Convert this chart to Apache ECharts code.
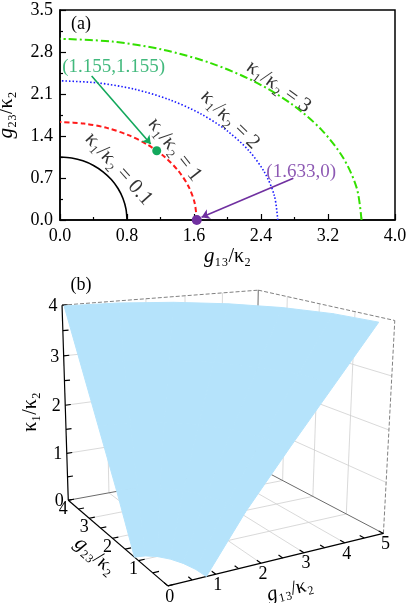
<!DOCTYPE html>
<html>
<head>
<meta charset="utf-8">
<script src="https://cdn.jsdelivr.net/npm/echarts@6/dist/echarts.min.js"></script>
<style>
html,body{margin:0;padding:0;background:#fff;}
#main{width:407px;height:603px;}
</style>
</head>
<body>
<div id="main"></div>
<script>
// ---- panel (a): contour curves (g13/k2, g23/k2)
var curveK01 = [[0.8,0],[0.788,0.182],[0.752,0.359],[0.693,0.525],[0.613,0.675],[0.514,0.804],[0.4,0.909],[0.274,0.987],[0.139,1.034],[0,1.05]];
var curveK1  = [[1.633,0],[1.608,0.284],[1.535,0.559],[1.414,0.817],[1.251,1.05],[1.05,1.251],[0.817,1.414],[0.559,1.535],[0.284,1.608],[0,1.633]];
var curveK2  = [[2.6,0],[2.56,0.403],[2.443,0.793],[2.252,1.16],[1.992,1.491],[1.671,1.777],[1.3,2.009],[0.889,2.18],[0.451,2.285],[0,2.32]];
var curveK3  = [[3.6,0],[3.545,0.524],[3.383,1.033],[3.118,1.51],[2.758,1.941],[2.314,2.313],[1.8,2.615],[1.231,2.838],[0.625,2.974],[0,3.02]];
var curveNames = ['κ₁/κ₂ = 0.1','κ₁/κ₂ = 1','κ₁/κ₂ = 2','κ₁/κ₂ = 3'];
var curveLabelAt = [[0.7,0.85],[1.37,1.17],[2.03,1.67],[2.61,2.22]];
var curveLabelRot = [-48,-52,-45,-36];
var pointGreen = [1.155,1.155];
var pointPurple = [1.633,0];
var arrowGreen = [[0.378,2.4],[1.083,1.267]];
var arrowPurple = [[2.786,0.695],[1.69,0.045]];
var noteGreen = '(1.155,1.155)', noteGreenAt = [0.64,2.55];
var notePurple = '(1.633,0)', notePurpleAt = [2.88,0.8];

// ---- panel (b): surface kappa1/kappa2 over (g13, g23)
var surfLevels = [0,1,2,3,4];
var surfG13 = [
  [0.8,0.773,0.693,0.566,0.4,0.207,0],
  [1.633,1.577,1.414,1.155,0.817,0.423,0],
  [2.6,2.511,2.252,1.838,1.3,0.673,0],
  [3.6,3.477,3.118,2.546,1.8,0.932,0],
  [4.6,4.443,3.984,3.253,2.3,1.191,0]
];
var surfG23 = [
  [0,0.298,0.575,0.813,0.996,1.111,1.15],
  [0,0.466,0.9,1.273,1.559,1.739,1.8],
  [0,0.647,1.25,1.768,2.165,2.415,2.5],
  [0,0.828,1.6,2.263,2.771,3.091,3.2],
  [0,1.009,1.95,2.758,3.377,3.767,3.9]
];
var g13Ticks3d = [0,1,2,3,4,5];
var g23Ticks3d = [0,1,2,3,4];
var kTicks3d = [0,1,2,3,4];

// camera anchors: where box points sit on the page
var camWorld = [[0,0,0],[1,0,0],[2,0,0],[3,0,0],[4,0,0],[5,0,0],[0,1,0],[0,2,0],[0,3,0],[0,4,0],[0,4,1],[0,4,2],[0,4,3],[0,4,4],[5,4,4],[5,0,4]];
var camScreen = [[168,586],[216,574],[261,563],[304,553],[344,543],[384,533],[139,561],[111,537],[89,519],[68,501],[68,453],[66,405],[63.3,356],[61.7,305],[258,290],[395,321]];

function fitCamera(world, screen){
  var N = 11, M = [], r = [], i, j;
  for (i = 0; i < N; i++){ M.push([0,0,0,0,0,0,0,0,0,0,0]); r.push(0); }
  function addRow(a, b){
    for (var i = 0; i < N; i++){ for (var j = 0; j < N; j++) M[i][j] += a[i]*a[j]; r[i] += a[i]*b; }
  }
  world.forEach(function(w, k){
    var X = w[0], Y = w[1], Z = w[2], x = screen[k][0], y = screen[k][1];
    addRow([X,Y,Z,1,0,0,0,0,-x*X,-x*Y,-x*Z], x);
    addRow([0,0,0,0,X,Y,Z,1,-y*X,-y*Y,-y*Z], y);
  });
  for (var c = 0; c < N; c++){
    var p = c;
    for (i = c+1; i < N; i++) if (Math.abs(M[i][c]) > Math.abs(M[p][c])) p = i;
    var t = M[c]; M[c] = M[p]; M[p] = t; t = r[c]; r[c] = r[p]; r[p] = t;
    for (i = c+1; i < N; i++){
      var f = M[i][c]/M[c][c];
      for (j = c; j < N; j++) M[i][j] -= f*M[c][j];
      r[i] -= f*r[c];
    }
  }
  var sol = new Array(N);
  for (i = N-1; i >= 0; i--){
    var s = r[i];
    for (j = i+1; j < N; j++) s -= M[i][j]*sol[j];
    sol[i] = s/M[i][i];
  }
  return sol;
}
var cam = fitCamera(camWorld, camScreen);
function proj(X, Y, Z){
  var d = cam[8]*X + cam[9]*Y + cam[10]*Z + 1;
  return [(cam[0]*X + cam[1]*Y + cam[2]*Z + cam[3])/d, (cam[4]*X + cam[5]*Y + cam[6]*Z + cam[7])/d];
}

var FONT = 'Liberation Serif';
var cGreen = '#13a85c', cPurple = '#7030a0';

// segments of the 3d box: [x1,y1,z1,x2,y2,z2,style]
var segs = [];
g13Ticks3d.slice(1, -1).forEach(function(g){
  segs.push([g,0,0,g,4,0,0]);          // floor
  segs.push([g,4,0,g,4,4,0]);          // back wall g23=4
});
g23Ticks3d.slice(1, -1).forEach(function(g){
  segs.push([0,g,0,5,g,0,0]);
  segs.push([5,g,0,5,g,4,0]);          // side wall g13=5
});
kTicks3d.slice(1, -1).forEach(function(k){
  segs.push([0,4,k,5,4,k,0]);
  segs.push([5,4,k,5,0,k,0]);
});
segs.push([0,4,4,5,4,4,1],[5,4,4,5,0,4,1],[5,0,0,5,0,4,1]);
segs.push([5,4,0,5,4,4,2],[5,0,0,5,4,0,2],[0,4,0,5,4,0,2]);
segs.push([0,4,0,0,4,4,3],[0,0,0,5,0,0,3],[0,0,0,0,4,0,3]);
// ticks (major + half minor)
for (var t = 0; t <= 4; t += 0.5) segs.push([0,4,t,0.13,4,t,3]);
for (t = 0; t <= 5; t += 0.5) segs.push([t,0,0,t,0.12,0,3]);
for (t = 0; t <= 4; t += 0.5) segs.push([0,t,0,0.13,t,0,3]);
var segStyles = [
  {stroke:'#cfcfcf', lineWidth:0.8},
  {stroke:'#808080', lineWidth:1, lineDash:[4,2]},
  {stroke:'#6a6a6a', lineWidth:1},
  {stroke:'#000', lineWidth:1.2}
];

// surface quads
var quads = [];
for (var a = 0; a < surfLevels.length - 1; a++)
  for (var b = 0; b < surfG13[a].length - 1; b++) quads.push([a, b]);

// tick labels for the 3d box: [axis, value]
var tickItems = [];
g13Ticks3d.forEach(function(v){ tickItems.push([0, v]); });
g23Ticks3d.slice(1).forEach(function(v){ tickItems.push([1, v]); });
kTicks3d.forEach(function(v){ tickItems.push([2, v]); });

function lineSeries(data, color, width, dash){
  return {type:'line', xAxisIndex:0, yAxisIndex:0, data:data, showSymbol:false, smooth:0.3,
    lineStyle:{color:color, width:width, type:dash}, silent:true, z:3};
}

var chart = echarts.init(document.getElementById('main'), null, {renderer:'canvas'});
var option = {
  animation:false,
  grid:[
    {left:60, top:10, width:335, height:210, show:true, borderColor:'#000', borderWidth:1.5, containLabel:false, outerBoundsMode:'none'},
    {left:0, top:0, width:407, height:603, containLabel:false, outerBoundsMode:'none'}
  ],
  xAxis:[
    {gridIndex:0, type:'value', min:0, max:4, interval:0.8,
      name:'{i|g}₁₃/κ₂', nameLocation:'middle', nameGap:19,
      nameTextStyle:{fontFamily:FONT, fontSize:20, color:'#000', rich:{i:{fontStyle:'italic', fontFamily:FONT, fontSize:21, color:'#000'}}},
      axisLine:{lineStyle:{color:'#000', width:1.5}},
      axisTick:{inside:true, length:6, lineStyle:{color:'#000', width:1.2}},
      minorTick:{show:true, splitNumber:2, length:3, lineStyle:{color:'#000', width:1.2}},
      splitLine:{show:false},
      axisLabel:{fontFamily:FONT, fontSize:18, color:'#000', margin:7, formatter:function(v){return v.toFixed(1);}}},
    {gridIndex:1, type:'value', min:0, max:407, show:false}
  ],
  yAxis:[
    {gridIndex:0, type:'value', min:0, max:3.5, interval:0.7,
      name:'{i|g}₂₃/κ₂', nameLocation:'middle', nameGap:43, nameRotate:90,
      nameTextStyle:{fontFamily:FONT, fontSize:20, color:'#000', rich:{i:{fontStyle:'italic', fontFamily:FONT, fontSize:21, color:'#000'}}},
      axisLine:{lineStyle:{color:'#000', width:1.5}},
      axisTick:{inside:true, length:6, lineStyle:{color:'#000', width:1.2}},
      minorTick:{show:true, splitNumber:2, length:3, lineStyle:{color:'#000', width:1.2}},
      splitLine:{show:false},
      axisLabel:{fontFamily:FONT, fontSize:18, color:'#000', margin:7, formatter:function(v){return v.toFixed(1);}}},
    {gridIndex:1, type:'value', min:0, max:603, inverse:true, show:false}
  ],
  series:[
    lineSeries(curveK01, '#000', 1.6, 'solid'),
    lineSeries(curveK1, '#ff1a1a', 2, [5,3]),
    lineSeries(curveK2, '#1a1aff', 1.6, [1.5,2]),
    lineSeries(curveK3, '#33e000', 2, [8,3,2,3]),
    {type:'scatter', xAxisIndex:0, yAxisIndex:0, symbolSize:0, silent:true, z:4,
      data:curveLabelAt.map(function(p, i){
        return {value:p, label:{show:true, position:'inside', rotate:curveLabelRot[i], formatter:curveNames[i],
          fontFamily:FONT, fontSize:21, color:'#000'}};
      })},
    {type:'scatter', xAxisIndex:0, yAxisIndex:0, symbolSize:0, silent:true, z:4,
      data:[
        {value:noteGreenAt, label:{show:true, position:'inside', formatter:noteGreen, fontFamily:FONT, fontSize:19, color:cGreen}},
        {value:notePurpleAt, label:{show:true, position:'inside', formatter:notePurple, fontFamily:FONT, fontSize:19, color:cPurple}}
      ]},
    {type:'lines', coordinateSystem:'cartesian2d', xAxisIndex:0, yAxisIndex:0, silent:true, z:5,
      symbol:['none','arrow'], symbolSize:8,
      data:[
        {coords:arrowGreen, lineStyle:{color:cGreen, width:1.6, opacity:1}},
        {coords:arrowPurple, lineStyle:{color:cPurple, width:1.6, opacity:1}}
      ]},
    {type:'scatter', xAxisIndex:0, yAxisIndex:0, clip:false, silent:true, z:6,
      data:[
        {value:pointGreen, symbolSize:9, itemStyle:{color:cGreen, opacity:1}},
        {value:pointPurple, symbolSize:10, itemStyle:{color:cPurple, opacity:1}}
      ]},

    // panel (b): walls, box, ticks
    {type:'custom', xAxisIndex:1, yAxisIndex:1, clip:false, silent:true, z:1, data:segs,
      renderItem:function(params, api){
        var p1 = api.coord(proj(api.value(0), api.value(1), api.value(2)));
        var p2 = api.coord(proj(api.value(3), api.value(4), api.value(5)));
        var st = segStyles[api.value(6)];
        return {type:'line', shape:{x1:p1[0], y1:p1[1], x2:p2[0], y2:p2[1]},
          style:{stroke:st.stroke, lineWidth:st.lineWidth, lineDash:st.lineDash || null}};
      }},
    // panel (b): surface
    {type:'custom', xAxisIndex:1, yAxisIndex:1, clip:false, silent:true, z:2, data:quads,
      renderItem:function(params, api){
        var i = api.value(0), j = api.value(1);
        var pts = [[i,j],[i,j+1],[i+1,j+1],[i+1,j]].map(function(q){
          return api.coord(proj(surfG13[q[0]][q[1]], surfG23[q[0]][q[1]], surfLevels[q[0]]));
        });
        return {type:'polygon', shape:{points:pts}, style:{fill:'#b5e3fb', stroke:'#b5e3fb', lineWidth:1}};
      }},
    // panel (b): tick labels
    {type:'custom', xAxisIndex:1, yAxisIndex:1, clip:false, silent:true, z:3, data:tickItems,
      renderItem:function(params, api){
        var ax = api.value(0), v = api.value(1), p, dx, dy;
        if (ax === 0){ p = proj(v, 0, 0); dx = 2; dy = 11; }
        else if (ax === 1){ p = proj(0, v, 0); dx = -5; dy = 9; }
        else { p = proj(0, 4, v); dx = -9; dy = 1; }
        var c = api.coord(p);
        return {type:'text', x:c[0] + dx, y:c[1] + dy,
          style:{text:String(v), fontFamily:FONT, fontSize:18, fill:'#000', align:'center', verticalAlign:'middle'}};
      }}
  ],
  graphic:[
    {type:'text', x:81, y:24, z:100, style:{text:'(a)', fontFamily:FONT, fontSize:18, fill:'#000', align:'center', verticalAlign:'middle'}},
    {type:'text', x:81, y:285, z:100, style:{text:'(b)', fontFamily:FONT, fontSize:18, fill:'#000', align:'center', verticalAlign:'middle'}},
    {type:'text', x:31, y:412, rotation:Math.PI/2, style:{text:'κ₁/κ₂', fontFamily:FONT, fontSize:20, fill:'#000', align:'center', verticalAlign:'middle'}},
    {type:'text', x:95, y:556, rotation:-40*Math.PI/180, style:{text:'{i|g}₂₃/κ₂', fontFamily:FONT, fontSize:20, fill:'#000', align:'center', verticalAlign:'middle',
      rich:{i:{fontStyle:'italic', fontFamily:FONT, fontSize:21, fill:'#000'}}}},
    {type:'text', x:290, y:590, rotation:14*Math.PI/180, style:{text:'{i|g}₁₃/κ₂', fontFamily:FONT, fontSize:20, fill:'#000', align:'center', verticalAlign:'middle',
      rich:{i:{fontStyle:'italic', fontFamily:FONT, fontSize:21, fill:'#000'}}}}
  ]
};
chart.setOption(option);
window.onresize = chart.resize;
</script>
</body>
</html>
